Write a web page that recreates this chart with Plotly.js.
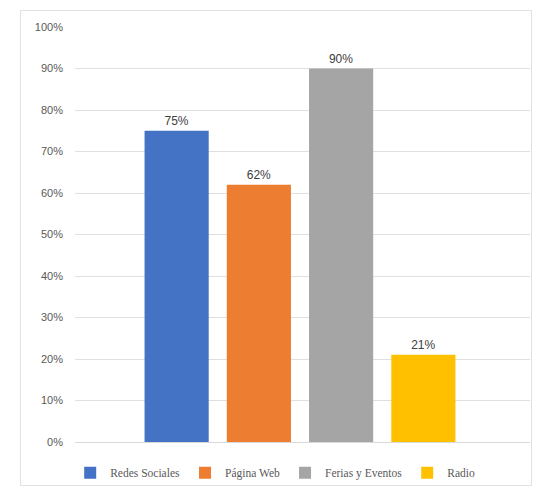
<!DOCTYPE html>
<html>
<head>
<meta charset="utf-8">
<script src="https://cdn.plot.ly/plotly-3.0.1.min.js"></script>
<style>
  html, body { margin: 0; padding: 0; background: #ffffff; }
  #frame { position: absolute; left: 20px; top: 10px; width: 512px; height: 476px; border: 1px solid #e2e2e2; box-sizing: border-box; pointer-events: none; }
  #chart { position: absolute; left: 0; top: 0; width: 537px; height: 492px; }
</style>
</head>
<body>
<div id="chart"></div>
<div id="frame"></div>
<script>
const seriesNames = ["Redes Sociales", "Página Web", "Ferias y Eventos", "Radio"];
const seriesValues = [0.75, 0.62, 0.90, 0.21];
const seriesColors = ["#4472C4", "#ED7D31", "#A5A5A5", "#FFC000"];
const category = ["Medio"];
const yTickVals = [0, 0.1, 0.2, 0.3, 0.4, 0.5, 0.6, 0.7, 0.8, 0.9, 1.0];

const traces = seriesNames.map((name, i) => ({
  type: "bar",
  name: name,
  x: category,
  y: [seriesValues[i]],
  marker: { color: seriesColors[i] },
  texttemplate: "%{y:.0%}",
  textposition: "outside",
  cliponaxis: false,
  textfont: { family: "Liberation Sans, Arial, sans-serif", size: 12, color: "#404040" },
  hoverinfo: "skip"
}));

const layout = {
  width: 537,
  height: 492,
  margin: { l: 75, r: 7, t: 27, b: 50, autoexpand: false },
  paper_bgcolor: "#ffffff",
  plot_bgcolor: "#ffffff",
  barmode: "group",
  bargap: 0.277,
  bargroupgap: 0.22,
  showlegend: true,
  legend: {
    orientation: "h",
    x: 0.44, xanchor: "center",
    yref: "container",
    y: 0.039, yanchor: "middle",
    font: { family: "Liberation Serif, Times New Roman, serif", size: 11.5, color: "#595959" },
    itemwidth: 30,
    tracegroupgap: 0,
    traceorder: "normal"
  },
  xaxis: {
    type: "category",
    range: [-0.4945, 0.5055],
    showticklabels: false,
    showgrid: false,
    zeroline: false,
    showline: false,
    fixedrange: true
  },
  yaxis: {
    range: [0, 1],
    tickvals: yTickVals,
    tickformat: ".0%",
    showgrid: true,
    gridcolor: "#e0e0e0",
    gridwidth: 1,
    zeroline: true,
    zerolinecolor: "#d9d9d9",
    showline: false,
    ticks: "",
    ticklabelstandoff: 11,
    tickfont: { family: "Liberation Sans, Arial, sans-serif", size: 11, color: "#595959" },
    fixedrange: true
  }
};

Plotly.newPlot("chart", traces, layout, { displayModeBar: false, staticPlot: true });
</script>
</body>
</html>
